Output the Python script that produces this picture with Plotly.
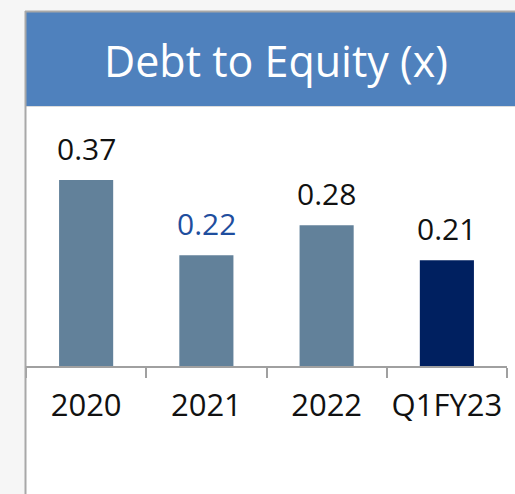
import plotly.graph_objects as go

# Debt-to-equity ratio by period
periods = ["2020", "2021", "2022", "Q1FY23"]
ratios = [0.37, 0.22, 0.28, 0.21]
bar_colors = ["#62819a", "#62819a", "#62819a", "#002060"]
label_colors = ["#111111", "#1f4e9e", "#111111", "#111111"]
title_text = "Debt to Equity (x)"

W, H = 515, 494
card_left = 26          # px from left
card_top = 12           # px from top
header_bottom = 106     # px from top
axis_y = 366            # px from top (baseline of bars)
axis_right = 507        # px from left
px_per_unit = 503.0

plot_h = axis_y         # plot area spans from baseline to top of page
y_max = plot_h / px_per_unit

fig = go.Figure()
fig.add_trace(go.Bar(
    x=periods,
    y=ratios,
    width=0.45,
    marker=dict(color=bar_colors, line=dict(width=0)),
    hoverinfo="skip",
))

font = "Open Sans, Lato, DejaVu Sans, sans-serif"

annotations = []
for i, (v, c) in enumerate(zip(ratios, label_colors)):
    annotations.append(dict(
        x=i, y=v, xref="x", yref="y",
        text=f"{v:.2f}", showarrow=False,
        yanchor="bottom", yshift=9,
        font=dict(family=font, size=30, color=c),
    ))

# Header title
annotations.append(dict(
    x=276 / W, y=1 - 60 / H, xref="paper", yref="paper",
    text=title_text, showarrow=False,
    xanchor="center", yanchor="middle",
    font=dict(family=font, size=43, color="white"),
))

shapes = [
    # white card
    dict(type="rect", xref="paper", yref="paper",
         x0=card_left / W, x1=1, y0=0, y1=1 - card_top / H,
         fillcolor="white", line=dict(width=0), layer="below"),
    # blue header band
    dict(type="rect", xref="paper", yref="paper",
         x0=card_left / W, x1=1, y0=1 - header_bottom / H, y1=1 - card_top / H,
         fillcolor="#4f81bd", line=dict(width=0), layer="below"),
    # thin rule under header
    dict(type="line", xref="paper", yref="paper",
         x0=card_left / W, x1=1, y0=1 - (header_bottom + 0.5) / H, y1=1 - (header_bottom + 0.5) / H,
         line=dict(color="#dcdcdc", width=1), layer="below"),
    # card borders
    dict(type="line", xref="paper", yref="paper",
         x0=(card_left - 0.5) / W, x1=(card_left - 0.5) / W, y0=0, y1=1 - (card_top - 1) / H,
         line=dict(color="#a8a8a8", width=2)),
    dict(type="line", xref="paper", yref="paper",
         x0=(card_left - 1) / W, x1=1, y0=1 - (card_top - 0.5) / H, y1=1 - (card_top - 0.5) / H,
         line=dict(color="#a8a8a8", width=2)),
]

fig.update_layout(
    width=W, height=H,
    margin=dict(l=0, r=0, t=0, b=0, autoexpand=False),
    paper_bgcolor="#f6f6f6",
    plot_bgcolor="rgba(0,0,0,0)",
    showlegend=False,
    annotations=annotations,
    shapes=shapes,
    xaxis=dict(
        domain=[card_left / W, axis_right / W],
        type="category",
        range=[-0.5, 3.5],
        automargin=False,
        tickangle=0,
        showline=True, linecolor="#a0a0a0", linewidth=2,
        ticks="outside", tickson="boundaries", ticklen=10,
        tickcolor="#a0a0a0", tickwidth=2,
        ticklabelstandoff=11,
        tickfont=dict(family=font, size=31, color="#111111"),
        showgrid=False, zeroline=False, fixedrange=True,
    ),
    yaxis=dict(
        domain=[(H - axis_y) / H, 1],
        range=[0, y_max],
        automargin=False,
        visible=False, showgrid=False, zeroline=False, fixedrange=True,
    ),
)

fig.write_html("out.html", config={"displayModeBar": False})
